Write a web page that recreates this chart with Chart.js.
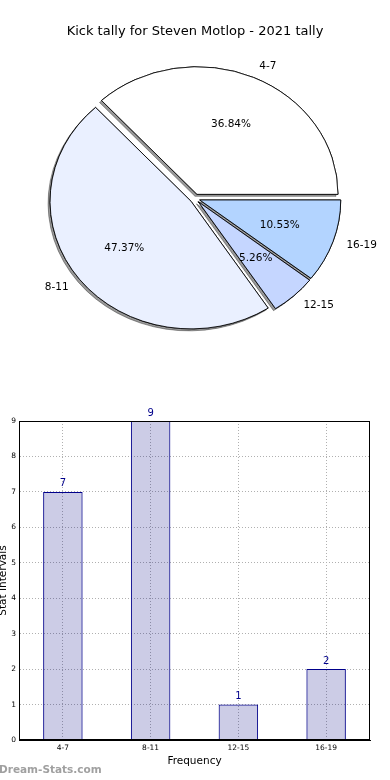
<!DOCTYPE html>
<html>
<head>
<meta charset="utf-8">
<script src="https://cdn.jsdelivr.net/npm/chart.js@4/dist/chart.umd.min.js"></script>
<style>
  html, body { margin: 0; padding: 0; background: #ffffff; }
  body { width: 390px; height: 780px; position: relative; overflow: hidden; }
  #pie { position: absolute; left: 0; top: 0; }
  #bar { position: absolute; left: 0; top: 400px; }
</style>
</head>
<body>
<canvas id="pie" width="390" height="400"></canvas>
<canvas id="bar" width="390" height="380"></canvas>
<script>
// ---- data ----
const categories = ["4-7", "8-11", "12-15", "16-19"];
const counts = [7, 9, 1, 2];
const sliceColors = ["#ffffff", "#eaf0ff", "#c5d6ff", "#b3d4ff"];
const yTicks = [0, 1, 2, 3, 4, 5, 6, 7, 8, 9];
const chartTitle = "Kick tally for Steven Motlop - 2021 tally";
const xTitle = "Frequency";
const yTitle = "Stat Intervals";
const watermark = "Dream-Stats.com";

const FONT = "'DejaVu Sans', 'Liberation Sans', sans-serif";
Chart.defaults.font.family = FONT;
Chart.defaults.color = "#000";

// ---- pie (matplotlib draws counter-clockwise from 3 o'clock; Chart.js clockwise) ----
const pieLabels = categories.slice().reverse();
const pieValues = counts.slice().reverse();
const pieColors = sliceColors.slice().reverse();
const total = counts.reduce((a, b) => a + b, 0);

const SQUASH = 0.905;  // ellipse ratio (height / width)
const EXPLODE = 5;     // px shift of each slice

const piePlugin = {
  id: 'piePlugin',
  beforeDatasetsDraw(chart) {
    const ctx = chart.ctx;
    const arcs = chart.getDatasetMeta(0).data;
    const cx = arcs[0].x, cy = arcs[0].y;
    const pass = (shadow) => {
      arcs.forEach(arc => {
        const mid = (arc.startAngle + arc.endAngle) / 2;
        ctx.save();
        if (shadow) {
          ctx.shadowColor = 'rgba(0,0,0,0.4)';
          ctx.shadowOffsetX = -2;
          ctx.shadowOffsetY = 2;
          ctx.shadowBlur = 0;
        }
        ctx.translate(Math.cos(mid) * EXPLODE, Math.sin(mid) * EXPLODE * SQUASH);
        ctx.translate(cx, cy);
        ctx.scale(1, SQUASH);
        ctx.translate(-cx, -cy);
        arc.draw(ctx);
        ctx.restore();
      });
    };
    pass(true);
    pass(false);
    return false;
  },
  afterDraw(chart) {
    const ctx = chart.ctx;
    const arcs = chart.getDatasetMeta(0).data;
    const cx = arcs[0].x, cy = arcs[0].y;
    ctx.save();
    ctx.fillStyle = '#000';
    ctx.font = "10.5px " + FONT;
    ctx.textBaseline = 'middle';
    arcs.forEach((arc, i) => {
      const mid = (arc.startAngle + arc.endAngle) / 2;
      const ux = Math.cos(mid), uy = Math.sin(mid) * SQUASH;
      const ox = cx + ux * EXPLODE, oy = cy + uy * EXPLODE;
      const R = arc.outerRadius;
      ctx.textAlign = ux > 0 ? 'left' : 'right';
      ctx.fillText(pieLabels[i], ox + ux * R * 1.1, oy + uy * R * 1.1);
      ctx.textAlign = 'center';
      const pct = (pieValues[i] / total * 100).toFixed(2) + '%';
      ctx.fillText(pct, ox + ux * R * 0.6, oy + uy * R * 0.6);
    });
    ctx.restore();
  }
};

new Chart(document.getElementById('pie'), {
  type: 'pie',
  data: {
    labels: pieLabels,
    datasets: [{
      data: pieValues,
      backgroundColor: pieColors,
      borderColor: '#000',
      borderWidth: 0.9,
      offset: 0,
      hoverOffset: 0
    }]
  },
  options: {
    responsive: false,
    animation: false,
    events: [],
    rotation: 90,
    radius: 141,
    layout: { padding: { top: 0, bottom: 52.1, left: 0, right: 0 } },
    plugins: {
      legend: { display: false },
      tooltip: { enabled: false },
      title: {
        display: true,
        text: chartTitle,
        color: '#000',
        font: { size: 13, weight: 'normal', family: FONT },
        padding: { top: 23.5, bottom: 10 }
      }
    }
  },
  plugins: [piePlugin]
});

// ---- bar ----
const barPlugin = {
  id: 'barPlugin',
  afterDatasetsDraw(chart) {
    const ctx = chart.ctx;
    const a = chart.chartArea;
    ctx.save();
    // frame
    ctx.strokeStyle = '#000';
    ctx.lineWidth = 1;
    ctx.strokeRect(Math.round(a.left) + 0.5, Math.round(a.top) + 0.5,
                   Math.round(a.right - a.left) - 1, Math.round(a.bottom - a.top) - 1);
    // value labels
    const meta = chart.getDatasetMeta(0);
    ctx.fillStyle = '#00008b';
    ctx.font = "10px " + FONT;
    ctx.textAlign = 'center';
    ctx.textBaseline = 'bottom';
    meta.data.forEach((bar, i) => {
      ctx.fillText(String(counts[i]), bar.x, bar.y - 3);
    });
    // axis titles
    ctx.fillStyle = '#000';
    ctx.font = "10.5px " + FONT;
    ctx.textBaseline = 'middle';
    ctx.fillText(xTitle, (a.left + a.right) / 2, 361);
    ctx.save();
    ctx.translate(3, (a.top + a.bottom) / 2);
    ctx.rotate(-Math.PI / 2);
    ctx.fillText(yTitle, 0, 0);
    ctx.restore();
    // watermark
    ctx.fillStyle = '#a0a0a0';
    ctx.font = "bold 10.5px " + FONT;
    ctx.textAlign = 'left';
    ctx.fillText(watermark, -1, 370);
    ctx.restore();
  }
};

new Chart(document.getElementById('bar'), {
  type: 'bar',
  data: {
    labels: categories,
    datasets: [{
      data: counts,
      backgroundColor: 'rgba(0,0,128,0.2)',
      borderColor: '#00008b',
      borderWidth: 1,
      barPercentage: 0.45,
      categoryPercentage: 1.0
    }]
  },
  options: {
    responsive: false,
    animation: false,
    events: [],
    layout: { padding: { top: 21, right: 20, left: 0, bottom: 0 } },
    plugins: { legend: { display: false }, tooltip: { enabled: false }, title: { display: false } },
    scales: {
      x: {
        offset: true,
        grid: { offset: false, color: '#b0b0b0', lineWidth: 1, drawTicks: false },
        border: { display: true, color: '#000', width: 1, dash: [1, 2] },
        ticks: { font: { size: 7.5 }, color: '#000', padding: 4, maxRotation: 0 },
        afterFit(scale) { scale.height = 40; }
      },
      y: {
        min: 0,
        max: 9,
        afterBuildTicks(scale) { scale.ticks = yTicks.map(v => ({ value: v })); },
        grid: { color: '#b0b0b0', lineWidth: 1, drawTicks: false },
        border: { display: true, color: '#000', width: 1, dash: [1, 2] },
        ticks: { font: { size: 7.5 }, color: '#000', padding: 3 },
        afterFit(scale) { scale.width = 19; }
      }
    }
  },
  plugins: [barPlugin]
});
</script>
</body>
</html>
